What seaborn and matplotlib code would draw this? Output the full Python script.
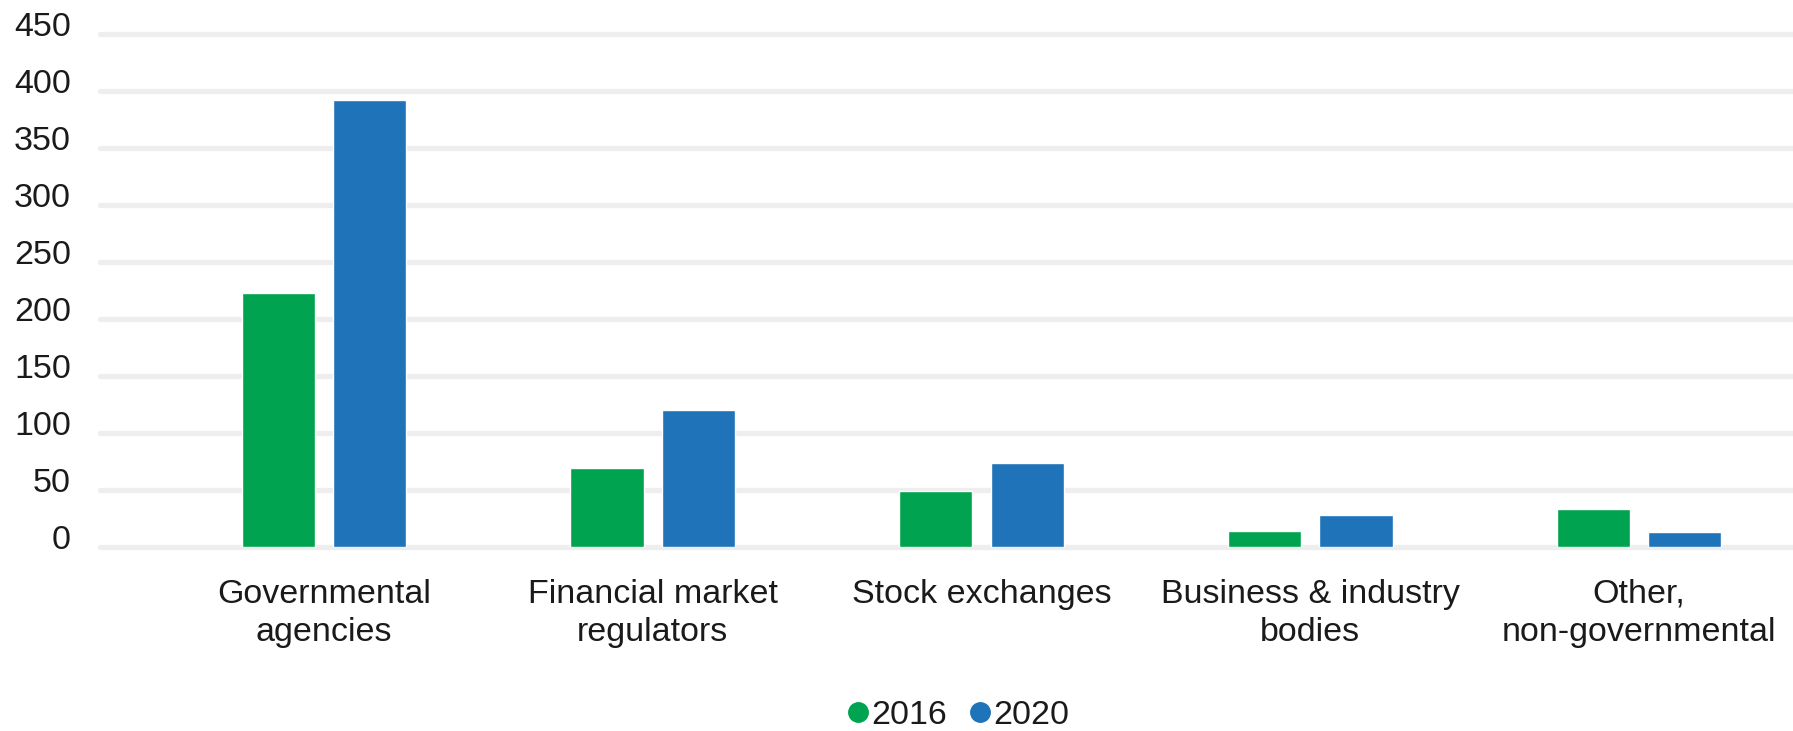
import matplotlib
matplotlib.use("Agg")
import matplotlib.pyplot as plt
import matplotlib.transforms as mtrans
from matplotlib.lines import Line2D
import seaborn as sns
import pandas as pd

categories = ["Governmental\nagencies", "Financial market\nregulators", "Stock exchanges",
              "Business & industry\nbodies", "Other,\nnon-governmental"]
years = ["2016", "2020"]
values_2016 = [223, 69, 49, 14, 33]
values_2020 = [392, 120, 73, 28, 13]
yticks = [0, 50, 100, 150, 200, 250, 300, 350, 400, 450]
colors = ["#00a34f", "#1f73b8"]

df = pd.DataFrame({
    "category": categories * 2,
    "year": [years[0]] * len(categories) + [years[1]] * len(categories),
    "value": values_2016 + values_2020,
})

sns.set_theme(style="white")
plt.rcParams["font.family"] = ["Liberation Sans", "DejaVu Sans"]

W, H = 1793, 731
fig = plt.figure(figsize=(W / 100, H / 100), dpi=100)
top, bottom = 34.3, 546.6
ax = fig.add_axes([100 / W, 1 - bottom / H, (W - 100) / W, (bottom - top) / H])

sns.barplot(data=df, x="category", y="value", hue="year", palette=colors,
            order=categories, hue_order=years, width=0.556, gap=0.2,
            saturation=1, ax=ax, legend=False, zorder=3)

ax.set_ylim(0, 450)
ax.set_xlim(-0.681, 4.468)
ax.set_yticks(yticks)
ax.set_xlabel("")
ax.set_ylabel("")
for s in ax.spines.values():
    s.set_visible(False)
for t in yticks:
    ax.axhline(t, color="#eeeeee", lw=3.8, zorder=1, clip_on=False)
ax.grid(False)

fs = 24.5
ax.tick_params(axis="y", length=0, pad=21, labelsize=fs, labelcolor="#1a1a1a")
ax.tick_params(axis="x", length=0, pad=23, labelsize=fs, labelcolor="#1a1a1a")
off = mtrans.ScaledTranslation(0, 10 / 100, fig.dpi_scale_trans)
for lab in ax.get_yticklabels():
    lab.set_transform(lab.get_transform() + off)
for lab in ax.get_xticklabels():
    lab.set_linespacing(1.3)

handles = [Line2D([0], [0], marker="o", color="none", markerfacecolor=c,
                  markeredgecolor=c, markersize=14) for c in colors]
fig.legend(handles, years, loc="center", bbox_to_anchor=(955 / W, 1 - 715 / H),
           ncol=2, frameon=False, fontsize=fs, handletextpad=-0.1,
           columnspacing=0.45, handlelength=1.0, labelcolor="#1a1a1a")

fig.savefig("out.png", dpi=100)
